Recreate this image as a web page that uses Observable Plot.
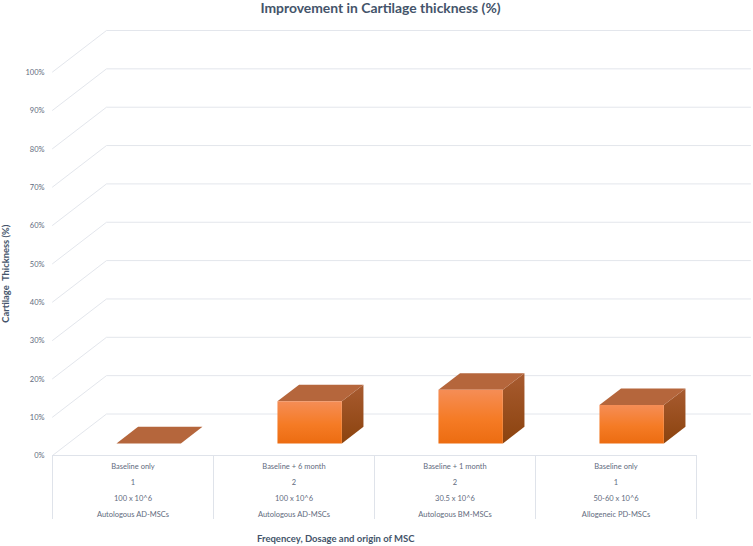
<!DOCTYPE html>
<html>
<head>
<meta charset="utf-8">
<script src="https://cdn.jsdelivr.net/npm/d3@7"></script>
<script src="https://cdn.jsdelivr.net/npm/@observablehq/plot@0.6"></script>
<style>
html,body{margin:0;padding:0;background:#fff;width:753px;height:546px;overflow:hidden;font-family:Lato,sans-serif}
#title{position:absolute;left:0;top:0;width:761px;height:16px;line-height:16px;text-align:center;font-weight:700;font-size:13.9px;color:#44546a}
#chart{position:absolute;left:0;top:16px}
#xlabel{position:absolute;left:257px;top:532px;font-weight:700;font-size:9.5px;line-height:13px;color:#44546a;white-space:pre}
</style>
</head>
<body>
<div id="title">Improvement in Cartilage thickness (%)</div>
<div id="chart"></div>
<div id="xlabel">Freqencey, Dosage and origin of MSC</div>
<script>
const values = [0, 11, 14, 10];
const frequencyNote = ["Baseline only", "Baseline + 6 month", "Baseline + 1 month", "Baseline only"];
const frequency = ["1", "2", "2", "1"];
const dosage = ["100 x 10^6", "100 x 10^6", "30.5 x 10^6", "50-60 x 10^6"];
const origin = ["Autologous AD-MSCs", "Autologous AD-MSCs", "Autologous BM-MSCs", "Allogeneic PD-MSCs"];
const yTicks = [0, 10, 20, 30, 40, 50, 60, 70, 80, 90, 100];
const rows = [frequencyNote, frequency, dosage, origin];
const rowOffsets = [10.7, 27, 43, 59];

// oblique projection, in data units: one full unit of depth
const depthX = 0.3354, depthY = 10.82;
const barWidth = 0.4, depthFront = 0.29, depthBack = 0.69;
const P = (c, v, d) => ({x: c + d * depthX, y: v + d * depthY});

const gridPts = yTicks.flatMap(v => [
  {id: v, ...P(0, v, 0)},
  {id: v, ...P(0, v, 1)},
  {id: v, ...P(values.length, v, 1)}
]);

const front = [], side = [], top_ = [];
values.forEach((v, i) => {
  const a = i + 0.5 - barWidth / 2, b = i + 0.5 + barWidth / 2;
  if (v > 0) [[a,0,depthFront],[b,0,depthFront],[b,v,depthFront],[a,v,depthFront]]
    .forEach(p => front.push({id: i, ...P(...p)}));
  if (v > 0) [[b,0,depthFront],[b,0,depthBack],[b,v,depthBack],[b,v,depthFront]]
    .forEach(p => side.push({id: i, ...P(...p)}));
  [[a,v,depthFront],[b,v,depthFront],[b,v,depthBack],[a,v,depthBack]]
    .forEach(p => top_.push({id: i, ...P(...p)}));
});

const labels = rows.flatMap((r, k) => r.map((t, i) => ({t, c: i + 0.5, k})));
const boundaries = d3.range(values.length + 1);

const defs = () => {
  const g = document.createElementNS("http://www.w3.org/2000/svg", "defs");
  g.innerHTML = `
  <linearGradient id="frontFill" x1="0" y1="0" x2="0" y2="1">
    <stop offset="0" stop-color="#f58d56"/><stop offset="0.55" stop-color="#f57b25"/><stop offset="1" stop-color="#ec6c11"/>
  </linearGradient>
  <linearGradient id="sideFill" x1="0" y1="0" x2="0" y2="1">
    <stop offset="0" stop-color="#a85b30"/><stop offset="1" stop-color="#8b430e"/>
  </linearGradient>`;
  return g;
};

const textColor = "#5f6b7e";
const chart = Plot.plot({
  width: 753,
  height: 510,
  marginLeft: 52, marginRight: 57, marginTop: 0, marginBottom: 0,
  style: {fontFamily: "Lato, sans-serif", background: "#fff", overflow: "visible"},
  x: {domain: [0, values.length], range: [52, 696], axis: null},
  y: {domain: [0, 100], range: [439, 55.5], axis: null},
  marks: [
    defs,
    Plot.line(gridPts, {x: "x", y: "y", z: "id", stroke: "#e3e6ec", strokeWidth: 1, curve: "linear"}),
    Plot.ruleY([0], {x1: 0, x2: values.length, stroke: "#dfe3ea", strokeWidth: 1}),
    Plot.ruleX(boundaries, {y1: 0, y2: -16.7, stroke: "#dfe3ea", strokeWidth: 1}),
    Plot.line(side, {x: "x", y: "y", z: "id", fill: "url(#sideFill)", stroke: null}),
    Plot.line(top_, {x: "x", y: "y", z: "id", fill: "#b5663c", stroke: null}),
    Plot.line(front, {x: "x", y: "y", z: "id", fill: "url(#frontFill)", stroke: null}),
    Plot.axisY(yTicks, {anchor: "left", tickSize: 0, tickPadding: 8, tickFormat: d => d + "%", fontSize: 7.5, dy: 0.5, color: textColor, label: null}),
    ...rowOffsets.map((dy, k) => Plot.text(labels.filter(d => d.k === k), {
      x: "c", y: () => 0, dy, text: "t", fontSize: 7.5, fill: textColor
    })),
    Plot.text(["Cartilage  Thickness (%)"], {
      x: -0.29, y: 47.4, text: d => d, rotate: -90, fontSize: 9.4, fontWeight: 700, fill: "#44546a"
    })
  ]
});
document.getElementById("chart").appendChild(chart);
</script>
</body>
</html>
